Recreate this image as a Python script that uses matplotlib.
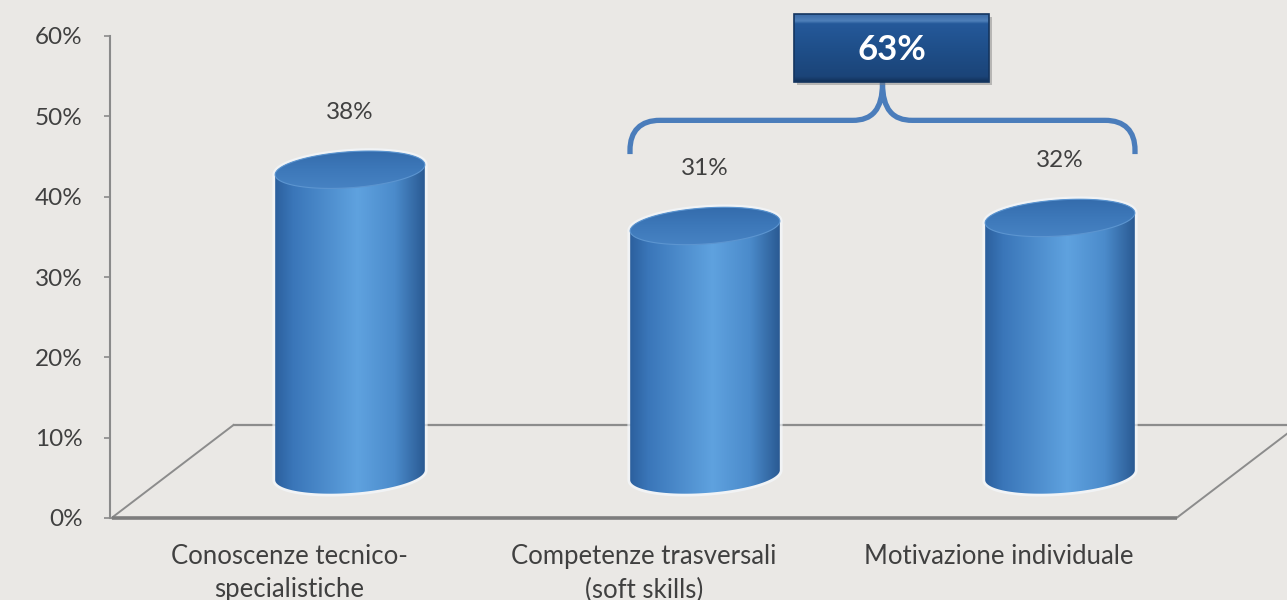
import numpy as np
import matplotlib
matplotlib.use("Agg")
import matplotlib.pyplot as plt
from matplotlib.patches import Polygon, PathPatch, Rectangle
from matplotlib.path import Path
from matplotlib.colors import LinearSegmentedColormap
from matplotlib.lines import Line2D

# ---------------- data ----------------
categories = ["Conoscenze tecnico-\nspecialistiche",
              "Competenze trasversali\n(soft skills)",
              "Motivazione individuale"]
values = [0.38, 0.31, 0.32]
value_labels = ["38%", "31%", "32%"]
yticks = [0.0, 0.1, 0.2, 0.3, 0.4, 0.5, 0.6]
ytick_labels = ["0%", "10%", "20%", "30%", "40%", "50%", "60%"]
group_members = [1, 2]
group_label = "63%"

# ---------------- layout / style ----------------
W, H = 1287, 600
FONT = ["Lato", "DejaVu Sans"]
BG = "#eae8e5"
TXT = "#404040"
AXC = "#8a8a8a"
FS = 18.5

fig = plt.figure(figsize=(W / 100, H / 100), dpi=100)
fig.patch.set_facecolor(BG)

Y_TOP = 0.64
x_left_px, x_right_px = 111.5, 1176.5
y0_px, y60_px = 518, 36
px_per_y = (y0_px - y60_px) / 0.6
ax = fig.add_axes([x_left_px / W, (H - y0_px) / H,
                   (x_right_px - x_left_px) / W, Y_TOP * px_per_y / H])
ax.set_xlim(-0.5, 2.5)
ax.set_ylim(0, Y_TOP)
ax.patch.set_visible(False)

PX_X = 3.0 / (x_right_px - x_left_px)   # data units per pixel (x)
PX_Y = 1.0 / px_per_y                   # data units per pixel (y)

# 3D depth of the floor
DEPTH_DX = 122 * PX_X
DEPTH_DY = 93 * PX_Y
BAR_DX = 61 * PX_X
BAR_DY = 43 * PX_Y

for s in ["top", "right", "bottom"]:
    ax.spines[s].set_visible(False)
ax.spines["left"].set_bounds(0, 0.6)
ax.spines["left"].set_color(AXC)
ax.spines["left"].set_linewidth(1.5)
ax.spines["left"].set_position(("outward", 1.2))

ax.set_yticks(yticks, ytick_labels)
ax.tick_params(axis="y", length=4.5, width=1.2, color=AXC, labelcolor=TXT,
               labelsize=17.5, pad=15)
for lab in ax.get_yticklabels():
    lab.set_fontfamily(FONT)

ax.set_xticks(range(len(categories)), categories)
ax.tick_params(axis="x", length=0, labelcolor=TXT, labelsize=FS, pad=19)
for lab in ax.get_xticklabels():
    lab.set_fontfamily(FONT)
    lab.set_linespacing(1.4)

# ---------------- floor ----------------
FL = (-0.5, 0.0)
FR = (2.5, 0.0)
BL = (-0.5 + DEPTH_DX, DEPTH_DY)
BR = (2.5 + DEPTH_DX, DEPTH_DY)
floor_col = "#8c8c8c"
for (p, q, lw) in [(FL, BL, 1.4), (BL, BR, 1.6), (FR, BR, 1.4)]:
    ax.add_line(Line2D([p[0], q[0]], [p[1], q[1]], color=floor_col, lw=lw,
                       clip_on=False, zorder=1))
ax.add_line(Line2D([FL[0], FR[0]], [FL[1], FR[1]], color="#7d7d7d", lw=2.6,
                   clip_on=False, zorder=1, solid_capstyle="butt"))

# ---------------- cylinders ----------------
A_PX, B_PX, TILT = 75, 18, np.deg2rad(4.0)

def ell(cx, cy, t):
    ex = A_PX * np.cos(t)
    ey = B_PX * np.sin(t)
    rx = ex * np.cos(TILT) - ey * np.sin(TILT)
    ry = ex * np.sin(TILT) + ey * np.cos(TILT)
    return cx + rx * PX_X, cy + ry * PX_Y

body_cmap = LinearSegmentedColormap.from_list(
    "body", [(0.0, "#2c609e"), (0.12, "#3a76b9"), (0.55, "#5fa2df"),
             (0.80, "#4b8bcb"), (1.0, "#2a5a93")])
top_cmap = LinearSegmentedColormap.from_list(
    "top", [(0.0, "#4a86c6"), (0.55, "#3c77b8"), (1.0, "#3168a8")])
grad_h = np.linspace(0, 1, 256).reshape(1, -1)
grad_v = np.linspace(0, 1, 256).reshape(-1, 1)

for i, v in enumerate(values):
    cx = i + BAR_DX
    base = BAR_DY
    top = v + BAR_DY
    tb = np.linspace(np.pi, 2 * np.pi, 80)
    tt = np.linspace(0, np.pi, 80)
    bx, by = ell(cx, base, tb)
    ux, uy = ell(cx, top, tt)
    outline = np.column_stack([np.concatenate([bx, ux]), np.concatenate([by, uy])])
    # glow
    glow = Polygon(outline, closed=True, facecolor="none", edgecolor="#f4f8fc",
                   lw=4, alpha=0.7, zorder=2, joinstyle="round")
    ax.add_patch(glow)
    body = Polygon(outline, closed=True, facecolor="none", edgecolor="none", zorder=3)
    ax.add_patch(body)
    im = ax.imshow(grad_h, cmap=body_cmap, aspect="auto", interpolation="bilinear",
                   extent=[cx - A_PX * PX_X, cx + A_PX * PX_X,
                           base - 25 * PX_Y, top + 25 * PX_Y],
                   origin="lower", zorder=3)
    im.set_clip_path(body)
    # top face
    tf = np.linspace(0, 2 * np.pi, 160)
    fx, fy = ell(cx, top, tf)
    topface = Polygon(np.column_stack([fx, fy]), closed=True, facecolor="none",
                      edgecolor="#5c95d0", lw=0.8, zorder=5)
    ax.add_patch(topface)
    im2 = ax.imshow(grad_v, cmap=top_cmap, aspect="auto", interpolation="bilinear",
                    extent=[cx - A_PX * PX_X, cx + A_PX * PX_X,
                            top - 25 * PX_Y, top + 25 * PX_Y],
                    origin="lower", zorder=4)
    im2.set_clip_path(topface)
    # value label
    ax.text(cx, top + 57 * PX_Y, value_labels[i], ha="center", va="center",
            fontsize=17.5, color=TXT, family=FONT, zorder=6)

# ---------------- bracket + total box ----------------
g0, g1 = group_members[0], group_members[-1]
bx0 = g0 + BAR_DX - A_PX * PX_X
bx1 = g1 + BAR_DX + A_PX * PX_X
bxc = (bx0 + bx1) / 2
y_end, y_h, y_peak = 0.453, 0.495, 0.542
rx, ry = 30 * PX_X, 30 * PX_Y
verts = [
    (bx0, y_end), (bx0, y_h - ry),
    (bx0, y_h - ry * 0.35), (bx0 + rx * 0.35, y_h), (bx0 + rx, y_h),
    (bxc - rx, y_h),
    (bxc - rx * 0.35, y_h), (bxc, y_h + ry * 0.35), (bxc, y_peak),
    (bxc, y_h + ry * 0.35), (bxc + rx * 0.35, y_h), (bxc + rx, y_h),
    (bx1 - rx, y_h),
    (bx1 - rx * 0.35, y_h), (bx1, y_h - ry * 0.35), (bx1, y_h - ry),
    (bx1, y_end),
]
codes = [Path.MOVETO, Path.LINETO,
         Path.CURVE4, Path.CURVE4, Path.CURVE4,
         Path.LINETO,
         Path.CURVE4, Path.CURVE4, Path.CURVE4,
         Path.CURVE4, Path.CURVE4, Path.CURVE4,
         Path.LINETO,
         Path.CURVE4, Path.CURVE4, Path.CURVE4,
         Path.LINETO]
ax.add_patch(PathPatch(Path(verts, codes), facecolor="none", edgecolor="#4b7dbb",
                       lw=3.8, capstyle="butt", joinstyle="round", zorder=6,
                       clip_on=False))

box_cx = bxc + 9 * PX_X
box_cy = 0.585
bw, bh = 195 * PX_X, 68 * PX_Y
# shadow
ax.add_patch(Rectangle((box_cx - bw / 2 + 3 * PX_X, box_cy - bh / 2 - 3 * PX_Y), bw, bh,
                       facecolor="#7a7a7a", alpha=0.45, edgecolor="none", zorder=6))
box = Rectangle((box_cx - bw / 2, box_cy - bh / 2), bw, bh, facecolor="none",
                edgecolor="#14355f", lw=1.2, zorder=8)
ax.add_patch(box)
box_cmap = LinearSegmentedColormap.from_list(
    "box", [(0.0, "#112f57"), (0.08, "#1b4478"), (0.5, "#1f4f8a"),
            (0.86, "#25599a"), (0.9, "#4f80ba"), (1.0, "#3a6aa6")])
im3 = ax.imshow(grad_v, cmap=box_cmap, aspect="auto", interpolation="bilinear",
                extent=[box_cx - bw / 2, box_cx + bw / 2,
                        box_cy - bh / 2, box_cy + bh / 2],
                origin="lower", zorder=7)
im3.set_clip_path(box)
ax.text(box_cx, box_cy - 2 * PX_Y, group_label, ha="center", va="center",
        fontsize=25, fontweight="bold", color="white", family=FONT, zorder=9)

ax.set_xlim(-0.5, 2.5)
ax.set_ylim(0, Y_TOP)
fig.savefig("out.png", dpi=100, facecolor=BG)
